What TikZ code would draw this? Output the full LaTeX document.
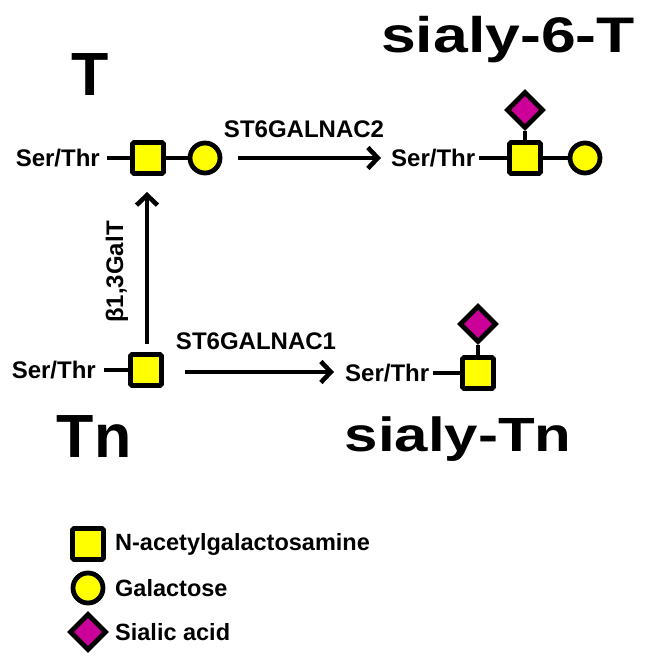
\documentclass[tikz,border=0pt]{standalone}
\usepackage{fontspec}
\setmainfont{Liberation Sans}
\usepackage{graphicx}
\usetikzlibrary{shapes.geometric,arrows.meta}
\definecolor{siamag}{RGB}{204,0,153}
\definecolor{galyel}{RGB}{255,255,0}
\tikzset{
  gal/.style={circle, draw, line width=4.8pt, fill=galyel, minimum size=30pt, inner sep=0pt},
  galnac/.style={rectangle, draw, line width=4.8pt, fill=galyel, minimum size=31pt, inner sep=0pt, rounded corners=1.5pt},
  sia/.style={diamond, draw, line width=4.8pt, fill=siamag, minimum size=37pt, inner sep=0pt},
  lbl/.style={font=\fontsize{24}{28}\selectfont\bfseries, inner sep=0pt},
  leg/.style={font=\fontsize{23.5}{28}\selectfont\bfseries, inner sep=0pt, anchor=west},
  big/.style={font=\fontsize{61}{70}\selectfont\bfseries, inner sep=0pt},
  link/.style={line width=3.5pt},
  rxn/.style={line width=4.6pt, -{Straight Barb[length=10pt,width=21pt,line width=4.6pt]}}
}
\begin{document}
\begin{tikzpicture}[x=1pt,y=-1pt]
\useasboundingbox (0,0) rectangle (650,663);

% big labels
\node[big, anchor=base] (labT) at (90,96) {T};
\node[big, anchor=base] (labTn) at (94,457) {Tn};
\node[font=\fontsize{50}{56}\selectfont\bfseries, inner sep=0pt, anchor=base] (labS6T) at (508,53) {\scalebox{1.25}[1]{sialy-6-T}};
\node[font=\fontsize{48}{54}\selectfont\bfseries, inner sep=0pt, anchor=base] (labSTn) at (458,451) {\scalebox{1.25}[1]{sialy-Tn}};

% T antigen (top left)
\node[lbl, anchor=east] (st1) at (100,158) {Ser/Thr};
\node[galnac] (n1) at (148,158) {};
\node[gal] (g1) at (205,158) {};
\draw[link] (st1.east) ++(7,0) -- (n1.west);
\draw[link] (n1.east) -- (g1.west);

% sialyl-6-T (top right)
\node[lbl, anchor=west] (st2) at (391,158) {Ser/Thr};
\node[galnac] (n2) at (525,158) {};
\node[gal] (g2) at (585,158) {};
\node[sia] (s2) at (525,110) {};
\draw[link] (st2.east) ++(4,0) -- (n2.west);
\draw[link] (n2.east) -- (g2.west);
\draw[link] (s2.south) -- (n2.north);

% Tn (bottom left)
\node[lbl, anchor=east] (st3) at (96,370) {Ser/Thr};
\node[galnac] (n3) at (146,370) {};
\draw[link] (st3.east) ++(8,0) -- (n3.west);

% sialyl-Tn (bottom right)
\node[lbl, anchor=west] (st4) at (345,373) {Ser/Thr};
\node[galnac] (n4) at (478,373) {};
\node[sia] (s4) at (478,324) {};
\draw[link] (st4.east) ++(4,0) -- (n4.west);
\draw[link] (s4.south) -- (n4.north);

% reactions
\coordinate (a1s) at (238,158);
\coordinate (a1e) at (381,158);
\draw[rxn] (a1s) -- (a1e);
\node[lbl] (e1) at (304,129) {ST6GALNAC2};

\coordinate (a2s) at (185,372);
\coordinate (a2e) at (334,372);
\draw[rxn] (a2s) -- (a2e);
\node[lbl] (e2) at (256,341) {ST6GALNAC1};

\coordinate (a3s) at (147,344);
\coordinate (a3e) at (147,192);
\draw[rxn] (a3s) -- (a3e);
\node[lbl, rotate=90] (e3) at (117,272) {β1,3GalT};

% legend
\node[galnac] (ln) at (88,544) {};
\node[gal] (lg) at (88,588) {};
\node[sia] (ls) at (88,632) {};
\node[leg] (tn) at (115,544) {N-acetylgalactosamine};
\node[leg] (tg) at (115,588) {Galactose};
\node[leg] (ts) at (115,632) {Sialic acid};
\end{tikzpicture}
\end{document}
